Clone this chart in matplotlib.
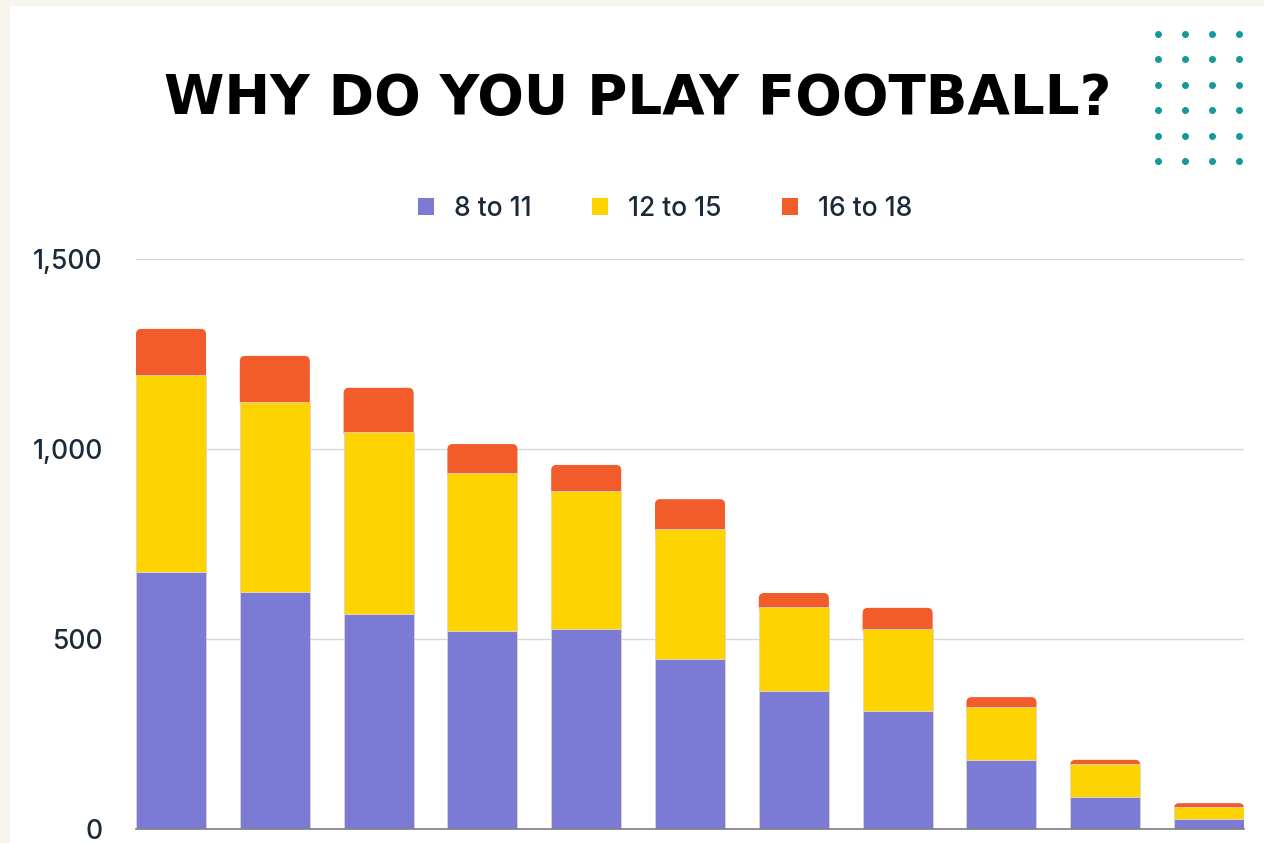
import numpy as np
import matplotlib.pyplot as plt
from matplotlib.patches import Rectangle, FancyBboxPatch, Patch

# survey counts per reason, split by age group
reasons = list(range(11))
age_8_11 = [676, 624, 566, 521, 526, 447, 363, 311, 182, 84, 26]
age_12_15 = [519, 500, 479, 416, 363, 342, 221, 215, 139, 87, 32]
age_16_18 = [121, 121, 116, 76, 69, 79, 37, 56, 26, 11, 10]
groups = ['8 to 11', '12 to 15', '16 to 18']
colors = ['#7b7bd6', '#fdd300', '#f25c2a']
yticks = [0, 500, 1000, 1500]

plt.rcParams['font.family'] = ['Inter', 'DejaVu Sans']
fig = plt.figure(figsize=(12.64, 8.43), dpi=100)
fig.patch.set_facecolor('#f8f5ee')
fig.add_artist(Rectangle((10 / 1264, 0), 1, 1 - 6 / 843, transform=fig.transFigure,
                         facecolor='white', edgecolor='none', zorder=0))

ax = fig.add_axes([136 / 1264, 1 - 829 / 843, 1108 / 1264, 570 / 843])
ax.set_facecolor('none')

x = np.array(reasons)
w = 0.675
bottom = np.zeros(len(x))
series = [age_8_11, age_12_15, age_16_18]
for i, (vals, col, lab) in enumerate(zip(series, colors, groups)):
    bars = ax.bar(x, vals, w, bottom=bottom, color=col, label=lab,
                  edgecolor='#e3d2c8', linewidth=0.6, zorder=3)
    bottom += np.array(vals)
    if i == len(series) - 1:
        # rounded top on each stack; the lower part hides behind the segment below
        for p in bars.patches:
            p.set_visible(False)
            fb = FancyBboxPatch((p.get_x(), p.get_y() - 15), p.get_width(), p.get_height() + 15,
                                boxstyle='round,pad=0,rounding_size=0.05',
                                mutation_aspect=280, facecolor=col,
                                edgecolor='none', zorder=2)
            ax.add_patch(fb)

ax.set_xlim(-0.3375, 10.337)
ax.set_ylim(0, 1500)
ax.set_yticks(yticks)
ax.set_yticklabels([f'{v:,}' for v in yticks])
ax.grid(axis='y', color='#d3d8de', linewidth=1, zorder=0)
ax.tick_params(axis='y', length=0, pad=24, labelsize=19, labelcolor='#1b2a3a')
for t in ax.get_yticklabels():
    t.set_fontweight('medium')
ax.tick_params(axis='x', length=0, labelbottom=False)
for s in ['top', 'right', 'left']:
    ax.spines[s].set_visible(False)
ax.spines['bottom'].set_color('#7a8088')
ax.spines['bottom'].set_linewidth(1.2)
ax.spines['bottom'].set_zorder(4)

handles = [Patch(facecolor=c, edgecolor='none') for c in colors]
leg = fig.legend(handles, groups, loc='center', bbox_to_anchor=(665 / 1264, 1 - 209 / 843),
                 ncol=3, frameon=False, fontsize=19, labelcolor='#1b2a3a', handlelength=0.6,
                 handleheight=0.6, columnspacing=2.3, handletextpad=0.75)
for t in leg.get_texts():
    t.set_fontweight('medium')

fig.text(638 / 1264, 1 - 99 / 843, 'WHY DO YOU PLAY FOOTBALL?', ha='center', va='center',
         fontsize=39.4, fontweight='bold', family=['DejaVu Sans'], color='black')

# decorative dot grid in the top right corner
gx, gy = np.meshgrid(np.arange(4) * 27 + 1158, np.arange(6) * 25.4 + 34)
fig.add_artist(plt.scatter(gx.ravel() / 1264, 1 - gy.ravel() / 843, s=14, color='#16999a',
                           transform=fig.transFigure, clip_on=False))

fig.savefig('out.png', dpi=100, facecolor=fig.get_facecolor())
